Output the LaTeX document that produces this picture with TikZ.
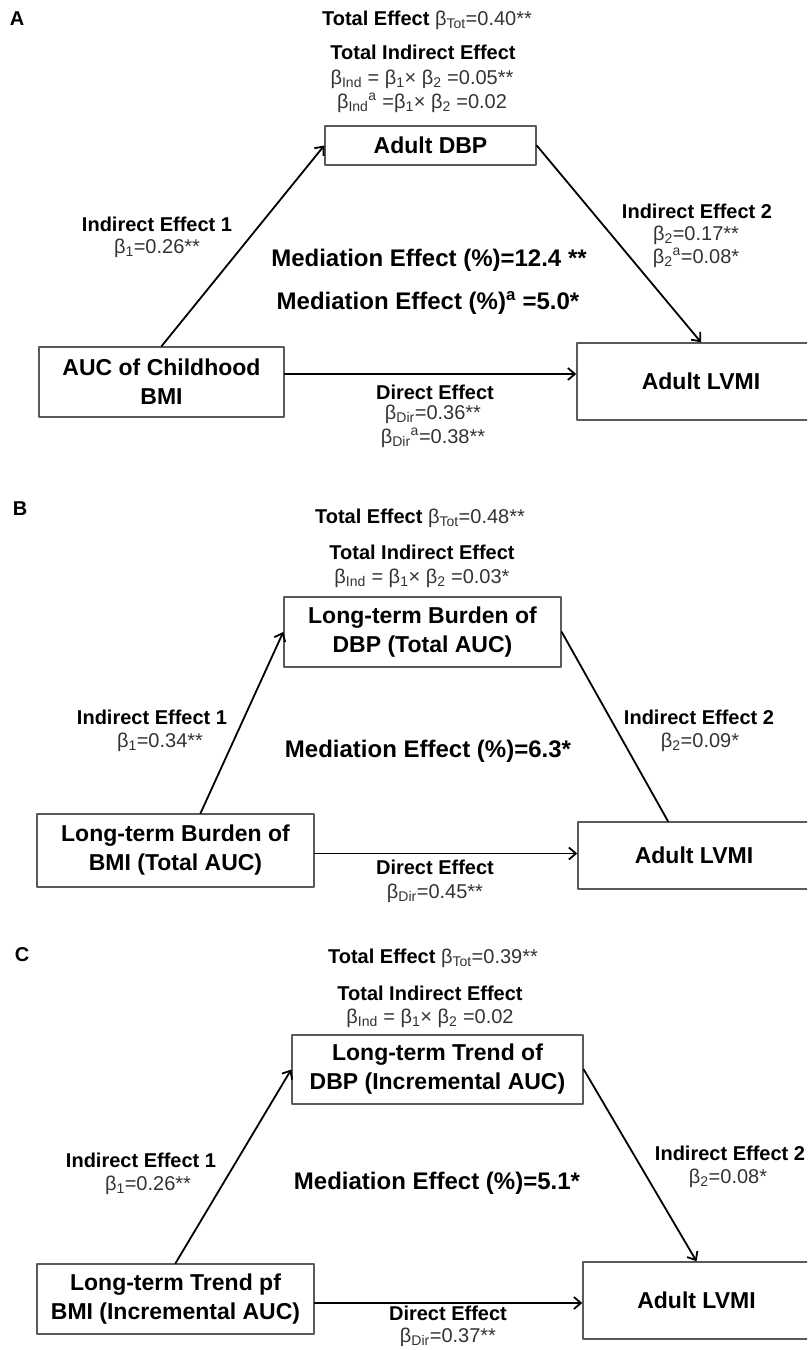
\documentclass[tikz,border=0pt]{standalone}
\usepackage{fontspec}
\setmainfont{Liberation Sans}
\usetikzlibrary{arrows.meta}

\definecolor{boxgray}{HTML}{5A5A5A}
\definecolor{valgray}{HTML}{333333}

\begin{document}
\begin{tikzpicture}[
    x=1pt,
    y=-1pt,
    line cap=round,
    line join=round,
    box/.style={
        draw=boxgray,
        line width=1.5pt,
        fill=white,
        align=center,
        inner sep=0pt,
        font=\fontsize{23}{29}\selectfont\bfseries
    },
    arr/.style={
        line width=1.8pt,
        -{Straight Barb[length=7pt,width=12pt]}
    },
    link/.style={
        line width=1.8pt
    },
    lbl/.style={
        font=\fontsize{20}{24}\selectfont\bfseries,
        align=center
    },
    val/.style={
        font=\fontsize{20}{24}\selectfont,
        text=valgray,
        align=center
    },
    med/.style={
        font=\fontsize{24}{28}\selectfont\bfseries
    },
    panel/.style={
        font=\fontsize{20}{24}\selectfont\bfseries
    }
]

\useasboundingbox (0,0) rectangle (807,1350);
\clip (0,0) rectangle (807,1350);

% =================================================
% Panel A
% =================================================

\node[panel] (labA) at (17,19) {A};
\node[val] (totA) at (427,20) {\textcolor{black}{\bfseries Total Effect} β\textsubscript{Tot}=0.40**};
\node[lbl] (tindA) at (423,52) {Total Indirect Effect};
\node[val] (indA)  at (422,79) {β\textsubscript{Ind} = β\textsubscript{1}× β\textsubscript{2} =0.05**};
\node[val] (indaA) at (422,103) {β\textsubscript{Ind}\textsuperscript{a} =β\textsubscript{1}× β\textsubscript{2} =0.02};

% Boxes
\node[box, minimum width=211, minimum height=39] (dbpA)  at (430.5,145.5) {Adult DBP};
\node[box, minimum width=245, minimum height=70] (bmiA)  at (161.5,382) {AUC of Childhood\\BMI};
\node[box, minimum width=248, minimum height=77] (lvmiA) at (701,381.5) {Adult LVMI};

% Paths
\draw[arr] (bmiA.north) -- (dbpA.west);
\draw[arr] (dbpA.east) -- (lvmiA.north);
\draw[arr] ([yshift=8pt]bmiA.east) -- ([yshift=8pt]bmiA.east -| lvmiA.west);

% Path labels
\node[lbl] (ie1A) at (157,224) {Indirect Effect 1};
\node[val] (b1A)  at (157,248) {β\textsubscript{1}=0.26**};
\node[lbl] (ie2A) at (697,211) {Indirect Effect 2};
\node[val] (b2A)  at (696,235) {β\textsubscript{2}=0.17**};
\node[val] (b2aA) at (696,258) {β\textsubscript{2}\textsuperscript{a}=0.08*};
\node[med] (medA)  at (429,260) {Mediation Effect (\%)=12.4 **};
\node[med] (medaA) at (428,303) {Mediation Effect (\%)\textsuperscript{a} =5.0*};
\node[lbl] (deA)    at (435,392) {Direct Effect};
\node[val] (bdirA)  at (433,414) {β\textsubscript{Dir}=0.36**};
\node[val] (bdiraA) at (433,438) {β\textsubscript{Dir}\textsuperscript{a}=0.38**};

% =================================================
% Panel B
% =================================================

\node[panel] (labB) at (20,509) {B};
\node[val] (totB) at (420,518) {\textcolor{black}{\bfseries Total Effect} β\textsubscript{Tot}=0.48**};
\node[lbl] (tindB) at (422,552) {Total Indirect Effect};
\node[val] (indB)  at (422,578) {β\textsubscript{Ind} = β\textsubscript{1}× β\textsubscript{2} =0.03*};

% Boxes
\node[box, minimum width=277, minimum height=70] (dbpB)  at (422.5,632) {Long-term Burden of\\DBP (Total AUC)};
\node[box, minimum width=277, minimum height=73] (bmiB)  at (175.5,850.5) {Long-term Burden of\\BMI (Total AUC)};
\node[box, minimum width=232, minimum height=67] (lvmiB) at (694,855.5) {Adult LVMI};

% Paths
\draw[arr]  ([xshift=25pt]bmiB.north) -- (dbpB.west);
\draw[link] (dbpB.east) -- ([xshift=-26pt]lvmiB.north);
\draw[arr]  ([yshift=-3pt]bmiB.east) -- ([yshift=-3pt]bmiB.east -| lvmiB.west);

% Path labels
\node[lbl] (ie1B) at (152,717) {Indirect Effect 1};
\node[val] (b1B)  at (160,742) {β\textsubscript{1}=0.34**};
\node[lbl] (ie2B) at (699,717) {Indirect Effect 2};
\node[val] (b2B)  at (700,742) {β\textsubscript{2}=0.09*};
\node[med] (medB) at (428,751) {Mediation Effect (\%)=6.3*};
\node[lbl] (deB)   at (435,867) {Direct Effect};
\node[val] (bdirB) at (435,893) {β\textsubscript{Dir}=0.45**};

% =================================================
% Panel C
% =================================================

\node[panel] (labC) at (22,955) {C};
\node[val] (totC) at (433,958) {\textcolor{black}{\bfseries Total Effect} β\textsubscript{Tot}=0.39**};
\node[lbl] (tindC) at (430,993) {Total Indirect Effect};
\node[val] (indC)  at (430,1018) {β\textsubscript{Ind} = β\textsubscript{1}× β\textsubscript{2} =0.02};

% Boxes
\node[box, minimum width=291, minimum height=69] (dbpC)  at (437.5,1069.5) {Long-term Trend of\\DBP (Incremental AUC)};
\node[box, minimum width=277, minimum height=70] (bmiC)  at (175.5,1299) {Long-term Trend pf\\BMI (Incremental AUC)};
\node[box, minimum width=227, minimum height=77] (lvmiC) at (696.5,1300.5) {Adult LVMI};

% Paths
\draw[arr] (bmiC.north) -- (dbpC.west);
\draw[arr] (dbpC.east) -- (lvmiC.north);
\draw[arr] ([yshift=-4pt]bmiC.east) -- ([yshift=-4pt]bmiC.east -| lvmiC.west);

% Path labels
\node[lbl] (ie1C) at (141,1160) {Indirect Effect 1};
\node[val] (b1C)  at (148,1185) {β\textsubscript{1}=0.26**};
\node[lbl] (ie2C) at (730,1153) {Indirect Effect 2};
\node[val] (b2C)  at (728,1178) {β\textsubscript{2}=0.08*};
\node[med] (medC) at (437,1183) {Mediation Effect (\%)=5.1*};
\node[lbl] (deC)   at (448,1313) {Direct Effect};
\node[val] (bdirC) at (448,1337) {β\textsubscript{Dir}=0.37**};

\end{tikzpicture}
\end{document}
